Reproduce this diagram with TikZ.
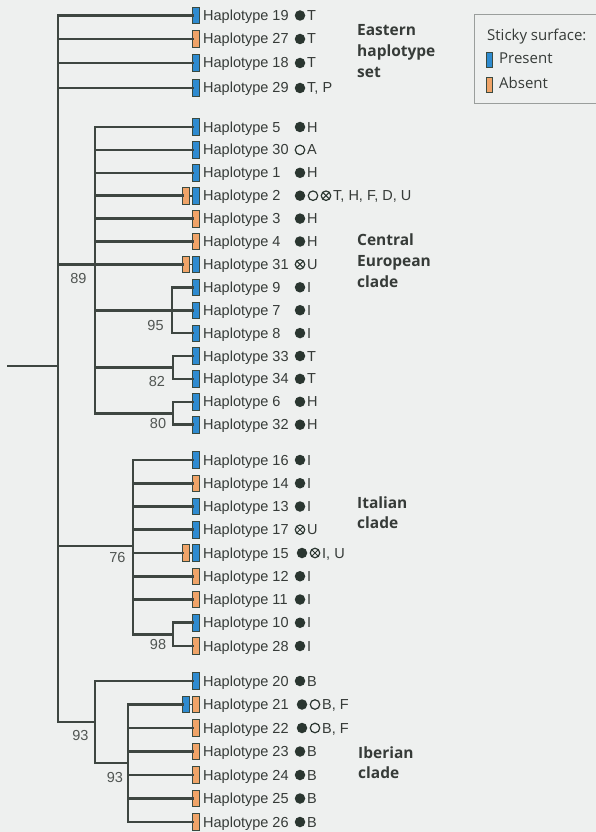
\documentclass[tikz,border=0pt]{standalone}
\usepackage{fontspec}
\setmainfont{Liberation Sans}
\newfontfamily\cladefont{Open Sans}
\definecolor{bg}{HTML}{EEF0EF}
\definecolor{lc}{HTML}{3E4641}
\definecolor{pb}{HTML}{2E8BD0}
\definecolor{ab}{HTML}{F0A468}
\definecolor{bc}{HTML}{3A4A40}
\definecolor{mk}{HTML}{2A3630}
\definecolor{tc}{HTML}{363B38}
\definecolor{bt}{HTML}{505552}
\definecolor{boxc}{HTML}{9A9E9C}
\tikzset{
  br/.style={line width=2.6pt, draw=lc, line cap=rect},
  lnk/.style={line width=1.6pt, draw=lc},
  pbar/.style={rectangle, draw=bc, line width=0.7pt, fill=pb, minimum width=6.5pt, minimum height=16.5pt, inner sep=0pt},
  abar/.style={pbar, fill=ab},
  hap/.style={anchor=base west, inner sep=0pt, text=tc, font=\fontsize{14.5}{16}\selectfont},
  fdot/.style={circle, fill=mk, minimum size=10.5pt, inner sep=0pt},
  odot/.style={circle, draw=mk, line width=1.2pt, minimum size=9.5pt, inner sep=0pt},
  xdot/.style={odot, path picture={\draw[mk, line width=1pt] (path picture bounding box.north west) -- (path picture bounding box.south east) (path picture bounding box.north east) -- (path picture bounding box.south west);}},
  boot/.style={inner sep=0pt, text=bt, font=\fontsize{14.5}{16}\selectfont},
  clade/.style={anchor=base west, inner sep=0pt, text=tc, font=\cladefont\bfseries\fontsize{15.5}{18}\selectfont},
  leg/.style={anchor=base west, inner sep=0pt, text=tc, font=\cladefont\fontsize{15}{18}\selectfont},
}
\newcommand\LeafRow[3]{\node[#3] (b#1) at (196,#2) {}; \node[hap] (t#1) at (203,#2+5) {Haplotype #1};}
\newcommand\OneMark[4]{\node[#3] (m#1) at (300,#2) {}; \node[hap] (c#1) at (307,#2+5) {#4};}
\begin{document}
\begin{tikzpicture}[x=1pt,y=-1pt]
\fill[bg] (0,0) rectangle (596,832);
\useasboundingbox (0,0) rectangle (596,832);
% ---------- leaves ----------
\LeafRow{19}{15.5}{pbar} \OneMark{19}{15.5}{fdot}{T}
\LeafRow{27}{39}{abar} \OneMark{27}{39}{fdot}{T}
\LeafRow{18}{63}{pbar} \OneMark{18}{63}{fdot}{T}
\LeafRow{29}{88}{pbar} \OneMark{29}{88}{fdot}{T, P}
\LeafRow{5}{127}{pbar} \OneMark{5}{127}{fdot}{H}
\LeafRow{30}{149.9}{pbar} \OneMark{30}{149.9}{odot}{A}
\LeafRow{1}{172.8}{pbar} \OneMark{1}{172.8}{fdot}{H}
\LeafRow{2}{195.7}{pbar} \node[abar] (b2a) at (186,195.7) {};
\node[fdot] (m2) at (300,195.7) {}; \node[odot] (m2b) at (313,195.7) {}; \node[xdot] (m2c) at (326,195.7) {};
\node[hap] (c2) at (333,200.7) {T, H, F, D, U};
\LeafRow{3}{218.6}{abar} \OneMark{3}{218.6}{fdot}{H}
\LeafRow{4}{241.5}{abar} \OneMark{4}{241.5}{fdot}{H}
\LeafRow{31}{264.4}{pbar} \node[abar] (b31a) at (186,264.4) {}; \OneMark{31}{264.4}{xdot}{U}
\LeafRow{9}{287.3}{pbar} \OneMark{9}{287.3}{fdot}{I}
\LeafRow{7}{310.2}{pbar} \OneMark{7}{310.2}{fdot}{I}
\LeafRow{8}{333.1}{pbar} \OneMark{8}{333.1}{fdot}{I}
\LeafRow{33}{356}{pbar} \OneMark{33}{356}{fdot}{T}
\LeafRow{34}{378.9}{pbar} \OneMark{34}{378.9}{fdot}{T}
\LeafRow{6}{401.8}{pbar} \OneMark{6}{401.8}{fdot}{H}
\LeafRow{32}{424.7}{pbar} \OneMark{32}{424.7}{fdot}{H}
\LeafRow{16}{460}{pbar} \OneMark{16}{460}{fdot}{I}
\LeafRow{14}{483.25}{abar} \OneMark{14}{483.25}{fdot}{I}
\LeafRow{13}{506.5}{pbar} \OneMark{13}{506.5}{fdot}{I}
\LeafRow{17}{529.75}{pbar} \OneMark{17}{529.75}{xdot}{U}
\LeafRow{15}{553}{pbar} \node[abar] (b15a) at (186,553) {};
\node[fdot] (m15) at (302,553) {}; \node[xdot] (m15b) at (315,553) {};
\node[hap] (c15) at (322,558) {I, U};
\LeafRow{12}{576.25}{abar} \OneMark{12}{576.25}{fdot}{I}
\LeafRow{11}{599.5}{abar} \OneMark{11}{599.5}{fdot}{I}
\LeafRow{10}{622.75}{pbar} \OneMark{10}{622.75}{fdot}{I}
\LeafRow{28}{646}{abar} \OneMark{28}{646}{fdot}{I}
\LeafRow{20}{681}{pbar} \OneMark{20}{681}{fdot}{B}
\LeafRow{21}{704.5}{abar} \node[pbar] (b21a) at (186,704.5) {};
\node[fdot] (m21) at (302,704.5) {}; \node[odot] (m21b) at (315,704.5) {};
\node[hap] (c21) at (322,709.5) {B, F};
\LeafRow{22}{728}{abar}
\node[fdot] (m22) at (302,728) {}; \node[odot] (m22b) at (315,728) {};
\node[hap] (c22) at (322,733) {B, F};
\LeafRow{23}{751.5}{abar} \OneMark{23}{751.5}{fdot}{B}
\LeafRow{24}{775}{abar} \OneMark{24}{775}{fdot}{B}
\LeafRow{25}{798.5}{abar} \OneMark{25}{798.5}{fdot}{B}
\LeafRow{26}{822}{abar} \OneMark{26}{822}{fdot}{B}
% double bar links
\draw[lnk] (b2a.east) -- (b2.west);
\draw[lnk] (b31a.east) -- (b31.west);
\draw[lnk] (b15a.east) -- (b15.west);
\draw[lnk] (b21a.east) -- (b21.west);
% ---------- internal nodes ----------
\coordinate (root) at (8,366);
\coordinate (n0) at (58,366);
\coordinate (nC) at (95,264.4);
\coordinate (n978) at (172,310.2);
\coordinate (n3334) at (173,367.45);
\coordinate (n632) at (173,413.25);
\coordinate (nI) at (133,546);
\coordinate (n1028) at (173,634.4);
\coordinate (nIb) at (95,722);
\coordinate (nIb2) at (128,763);
% ---------- branches ----------
\draw[br] (root) -- (n0);
\draw[br] (n0 |- b19) -- (n0 |- nIb);
\foreach \k in {19,27,18,29} \draw[br] (n0 |- b\k) -- (b\k.west);
% central european
\draw[br] (n0 |- nC) -- (nC) -- (b31a.west);
\draw[br] (nC |- b5) -- (nC |- n632);
\foreach \k in {5,30,1,3,4,7} \draw[br] (nC |- b\k) -- (b\k.west);
\draw[br] (nC |- b2) -- (b2a.west);
\draw[br] (n978 |- b9) -- (n978 |- b8);
\foreach \k in {9,8} \draw[br] (n978 |- b\k) -- (b\k.west);
\draw[br] (nC |- n3334) -- (n3334);
\draw[br] (n3334 |- b33) -- (n3334 |- b34);
\foreach \k in {33,34} \draw[br] (n3334 |- b\k) -- (b\k.west);
\draw[br] (nC |- n632) -- (n632);
\draw[br] (n632 |- b6) -- (n632 |- b32);
\foreach \k in {6,32} \draw[br] (n632 |- b\k) -- (b\k.west);
% italian
\draw[br] (n0 |- nI) -- (nI);
\draw[br] (nI |- b16) -- (nI |- n1028);
\foreach \k in {16,14,13,17,12,11} \draw[br] (nI |- b\k) -- (b\k.west);
\draw[br] (nI |- b15) -- (b15a.west);
\draw[br] (nI |- n1028) -- (n1028);
\draw[br] (n1028 |- b10) -- (n1028 |- b28);
\foreach \k in {10,28} \draw[br] (n1028 |- b\k) -- (b\k.west);
% iberian
\draw[br] (n0 |- nIb) -- (nIb);
\draw[br] (nIb |- b20) -- (nIb |- nIb2);
\draw[br] (nIb |- b20) -- (b20.west);
\draw[br] (nIb |- nIb2) -- (nIb2);
\draw[br] (nIb2 |- b21) -- (nIb2 |- b26);
\draw[br] (nIb2 |- b21) -- (b21a.west);
\foreach \k in {22,23,24,25,26} \draw[br] (nIb2 |- b\k) -- (b\k.west);
% ---------- support values ----------
\node[boot] (s89) at (78.5,279) {89};
\node[boot] (s95) at (155.5,326) {95};
\node[boot] (s82) at (157,382) {82};
\node[boot] (s80) at (158,424) {80};
\node[boot] (s76) at (117.5,558) {76};
\node[boot] (s98) at (158,645) {98};
\node[boot] (s93a) at (80.5,735) {93};
\node[boot] (s93b) at (115,777) {93};
% ---------- clade labels ----------
\node[clade] (e1) at (357,36) {Eastern};
\node[clade] (e2) at (357,57) {haplotype};
\node[clade] (e3) at (357,78) {set};
\node[clade] (ce1) at (357,245) {Central};
\node[clade] (ce2) at (357,266) {European};
\node[clade] (ce3) at (357,287) {clade};
\node[clade] (it1) at (357,508) {Italian};
\node[clade] (it2) at (357,528) {clade};
\node[clade] (ib1) at (358,758) {Iberian};
\node[clade] (ib2) at (358,778) {clade};
% ---------- legend ----------
\draw[boxc, line width=0.8pt] (474,14) rectangle (602,103);
\node[leg] (lt) at (487,41) {Sticky surface:};
\node[pbar, minimum width=5.5pt, minimum height=15pt] (lpb) at (489.5,59.5) {};
\node[leg] (lpt) at (499,64) {Present};
\node[abar, minimum width=5.5pt, minimum height=15pt] (lab) at (489.5,84.5) {};
\node[leg] (lat) at (499,89) {Absent};
\end{tikzpicture}
\end{document}
